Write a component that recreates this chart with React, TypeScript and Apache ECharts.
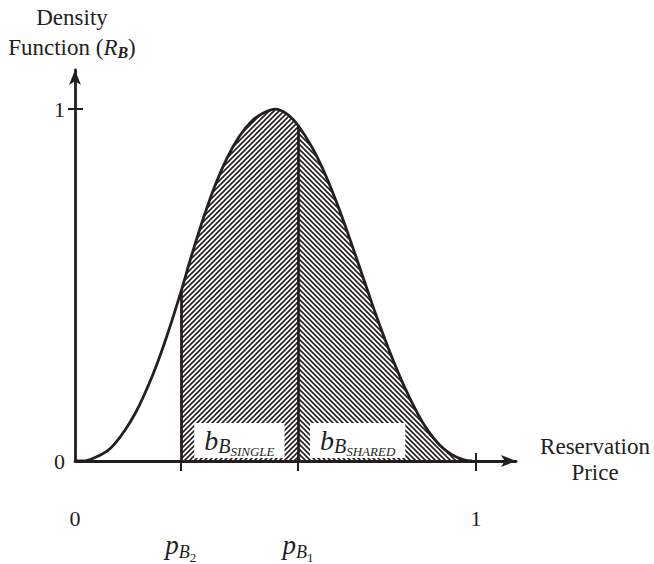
import React, { useEffect, useRef } from "react";
import * as echarts from "echarts";

// ---- data ----
const densityX = [0, 0.02, 0.05, 0.08, 0.1, 0.125, 0.15, 0.17, 0.2, 0.23, 0.264, 0.29, 0.32, 0.35, 0.38, 0.41, 0.44, 0.47, 0.5, 0.53, 0.556, 0.59, 0.62, 0.65, 0.68, 0.716, 0.74, 0.761, 0.79, 0.82, 0.855, 0.88, 0.91, 0.94, 0.97, 0.99];
const densityY = [0, 0, 0.01, 0.028, 0.05, 0.088, 0.135, 0.181, 0.262, 0.358, 0.48, 0.581, 0.689, 0.785, 0.863, 0.923, 0.965, 0.989, 1.0, 0.985, 0.954, 0.894, 0.825, 0.742, 0.649, 0.53, 0.45, 0.383, 0.296, 0.215, 0.134, 0.087, 0.045, 0.018, 0.003, 0];
const pB2 = 0.264;
const pB1 = 0.556;
const xTickValues = [0, 1];
const yTickValues = [0, 1];
const regionLabels = [
  { x: 0.41, name: "SINGLE" },
  { x: 0.705, name: "SHARED" },
];

const ink = "#231f20";
const serif = "'Liberation Serif', 'DejaVu Serif', serif";

function hatch(dir: number) {
  const s = 5;
  const c = document.createElement("canvas");
  c.width = s;
  c.height = s;
  const ctx = c.getContext("2d")!;
  ctx.strokeStyle = ink;
  ctx.lineWidth = 1.6;
  ctx.beginPath();
  if (dir > 0) {
    ctx.moveTo(-1, s + 1); ctx.lineTo(s + 1, -1);
    ctx.moveTo(-1, 1); ctx.lineTo(1, -1);
    ctx.moveTo(s - 1, s + 1); ctx.lineTo(s + 1, s - 1);
  } else {
    ctx.moveTo(-1, -1); ctx.lineTo(s + 1, s + 1);
    ctx.moveTo(s - 1, -1); ctx.lineTo(s + 1, 1);
    ctx.moveTo(-1, s - 1); ctx.lineTo(1, s + 1);
  }
  ctx.stroke();
  return { image: c, repeat: "repeat", imageWidth: s, imageHeight: s } as any;
}

export default function App() {
  const ref = useRef<HTMLDivElement>(null);
  useEffect(() => {
    document.body.style.margin = "0";
    const chart = echarts.init(ref.current!, undefined, { renderer: "svg" });
    const pts = densityX.map((x, i) => [x, densityY[i]]);
    const yAt = (v: number) => densityY[densityX.indexOf(v)];
    const reg1 = pts.filter((p) => p[0] >= pB2 && p[0] <= pB1);
    const reg2 = pts.filter((p) => p[0] >= pB1);
    const lineStyle = { color: ink, width: 2.8 };
    const sub = (name: string) => `{b|b}{B|B}{s|${name}}`;
    const smooth = 0.35;
    chart.setOption({
      animation: false,
      grid: { left: 75, top: 70, width: 441, height: 400 },
      xAxis: [
        {
          type: "value", min: 0, max: 1.1, position: "bottom",
          axisLine: { show: true, lineStyle, symbol: ["none", "arrow"], symbolSize: [9, 15] },
          axisTick: { show: true, customValues: [pB2, pB1, 1], length: 10, lineStyle: { color: ink, width: 2 } },
          axisLabel: { customValues: xTickValues, margin: 46, fontSize: 22, fontFamily: serif, color: ink },
          splitLine: { show: false },
        },
        {
          type: "value", min: 0, max: 1.1, position: "bottom",
          axisLine: { show: false },
          axisTick: { show: true, inside: true, customValues: [1], length: 8, lineStyle: { color: ink, width: 2 } },
          axisLabel: {
            customValues: [pB2, pB1], margin: 64, color: ink,
            formatter: (v: number) => (Math.abs(v - pB2) < 1e-6 ? "{p|p}{b|B}{n|2}" : "{p|p}{b|B}{n|1}"),
            rich: {
              p: { fontSize: 27, fontStyle: "italic", fontFamily: serif, color: ink },
              b: { fontSize: 18, fontStyle: "italic", fontFamily: serif, color: ink, padding: [14, 0, 0, 0] },
              n: { fontSize: 13, fontFamily: serif, color: ink, padding: [26, 0, 0, 0] },
            },
          },
          splitLine: { show: false },
        },
      ],
      yAxis: [
        {
          type: "value", min: 0, max: 1.111, position: "left",
          axisLine: { show: true, lineStyle, symbol: ["none", "arrow"], symbolSize: [9, 15] },
          axisTick: { show: true, customValues: [1], length: 7, lineStyle: { color: ink, width: 2 } },
          axisLabel: { customValues: yTickValues, margin: 10, fontSize: 22, fontFamily: serif, color: ink },
          splitLine: { show: false },
        },
        {
          type: "value", min: 0, max: 1.111, position: "left",
          axisLine: { show: false },
          axisTick: { show: true, inside: true, customValues: [1], length: 8, lineStyle: { color: ink, width: 2 } },
          axisLabel: { show: false },
          splitLine: { show: false },
        },
      ],
      series: [
        {
          type: "line", data: reg1, smooth, symbol: "none",
          lineStyle: { width: 0 }, areaStyle: { color: hatch(1), opacity: 1 }, silent: true, z: 1,
          markLine: {
            silent: true, symbol: "none", label: { show: false },
            lineStyle: { color: ink, width: 2.8, type: "solid" },
            data: [
              [{ coord: [pB2, 0] }, { coord: [pB2, yAt(pB2)] }],
              [{ coord: [pB1, 0] }, { coord: [pB1, yAt(pB1)] }],
            ],
          },
        },
        {
          type: "line", data: reg2, smooth, symbol: "none",
          lineStyle: { width: 0 }, areaStyle: { color: hatch(-1), opacity: 1 }, silent: true, z: 1,
        },
        {
          type: "line", data: pts, smooth, symbol: "none",
          lineStyle, silent: true, z: 3,
        },
        {
          type: "scatter", symbolSize: 0, silent: true, z: 4,
          itemStyle: { opacity: 1 },
          data: regionLabels.map((r) => [r.x, 0, r.name]),
          label: {
            show: true, position: "top", distance: 3, backgroundColor: "#fff", padding: [0, 10, 0, 10], opacity: 1,
            formatter: (p: any) => sub(p.data[2]),
            rich: {
              b: { fontSize: 28, fontStyle: "italic", fontFamily: serif, color: ink },
              B: { fontSize: 20, fontStyle: "italic", fontFamily: serif, color: ink, padding: [10, 0, 0, 0] },
              s: { fontSize: 13, fontStyle: "italic", fontFamily: serif, color: ink, padding: [22, 0, 0, 0] },
            },
          },
        },
      ],
      graphic: [
        { type: "text", x: 72, y: 17, style: { text: "Density", fontSize: 23, fontFamily: serif, fill: ink, align: "center", verticalAlign: "middle" } },
        {
          type: "text", x: 72, y: 47,
          style: {
            text: "{a|Function (}{r|R}{s|B}{a|)}", align: "center", verticalAlign: "middle",
            rich: {
              a: { fontSize: 23, fontFamily: serif, fill: ink },
              r: { fontSize: 23, fontStyle: "italic", fontFamily: serif, fill: ink },
              s: { fontSize: 16, fontStyle: "italic", fontWeight: "bold", fontFamily: serif, fill: ink, padding: [10, 0, 0, 0] },
            },
          },
        },
        { type: "text", x: 595, y: 446, style: { text: "Reservation", fontSize: 23, fontFamily: serif, fill: ink, align: "center", verticalAlign: "middle" } },
        { type: "text", x: 595, y: 472, style: { text: "Price", fontSize: 23, fontFamily: serif, fill: ink, align: "center", verticalAlign: "middle" } },
      ],
    });
    return () => chart.dispose();
  }, []);
  return <div ref={ref} style={{ width: 654, height: 564 }} />;
}
